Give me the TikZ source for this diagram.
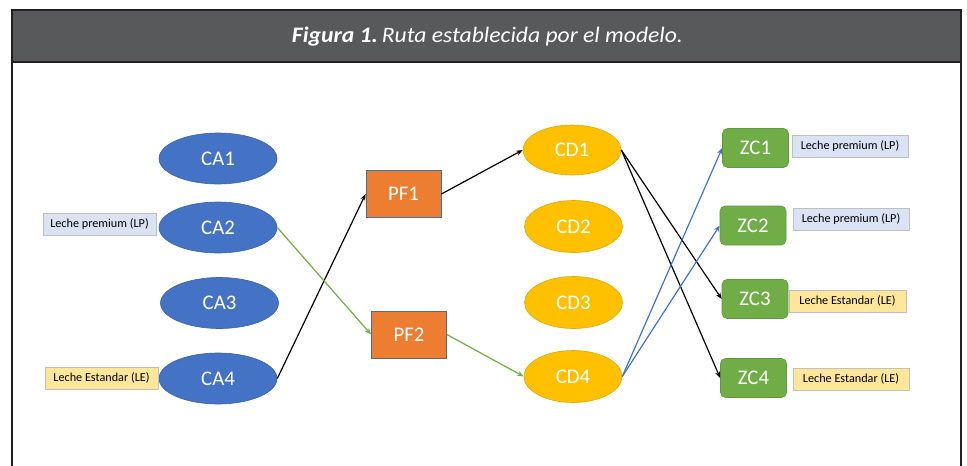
\documentclass[tikz,border=0pt]{standalone}
\usepackage{fontspec}
\setmainfont{Carlito}
\usetikzlibrary{shapes.geometric,arrows.meta}
\definecolor{hdr}{HTML}{58595B}
\definecolor{frm}{HTML}{231F20}
\definecolor{cablue}{HTML}{4472C4}
\definecolor{cablueD}{HTML}{3A62AA}
\definecolor{pforange}{HTML}{ED7D31}
\definecolor{pfedge}{HTML}{41719C}
\definecolor{cdyellow}{HTML}{FFC000}
\definecolor{cdyellowD}{HTML}{E0A800}
\definecolor{zcgreen}{HTML}{70AD47}
\definecolor{zcgreenD}{HTML}{5E9A3A}
\definecolor{lpfill}{HTML}{DAE3F3}
\definecolor{lefill}{HTML}{FFE699}
\definecolor{lbledge}{HTML}{BFBFBF}
\definecolor{garrow}{HTML}{70AD47}
\definecolor{barrow}{HTML}{4472C4}
\begin{document}
\begin{tikzpicture}[x=1pt,y=-1pt,
  nodefont/.style={font=\fontsize{20.8}{23}\selectfont, text=white},
  caell/.style={ellipse, fill=cablue, draw=cablueD, line width=0.6pt, minimum width=118pt, minimum height=51pt, inner sep=0pt, nodefont},
  cdell/.style={ellipse, fill=cdyellow, draw=cdyellowD, line width=0.6pt, minimum width=98pt, minimum height=50pt, inner sep=0pt, nodefont},
  pfbox/.style={rectangle, fill=pforange, draw=pfedge, line width=0.8pt, minimum width=75pt, minimum height=47pt, inner sep=0pt, nodefont},
  zcbox/.style={rectangle, rounded corners=5pt, fill=zcgreen, draw=zcgreenD, line width=0.6pt, minimum width=66pt, minimum height=39pt, inner sep=0pt, nodefont},
  lbl/.style={rectangle, draw=lbledge, line width=0.7pt, minimum width=115pt, minimum height=22pt, inner sep=0pt, font=\fontsize{12.2}{14}\selectfont, text=black},
  lplbl/.style={lbl, fill=lpfill},
  lelbl/.style={lbl, fill=lefill},
  conn/.style={line width=1.2pt, -{Stealth[length=6.5pt,width=5pt]}},
]
\useasboundingbox (0,0) rectangle (967,466);
% frame
\draw[frm, line width=2pt] (12,10) -- (12,466);
\draw[frm, line width=2pt] (961,10) -- (961,466);
\node[rectangle, fill=hdr, draw=frm, line width=2pt, minimum width=949pt, minimum height=52pt, inner sep=0pt] (header) at (486.5,36) {};
\node[text=white, inner sep=0pt] (title) at (487.5,37) {\resizebox{391pt}{15.5pt}{\textbf{\textit{Figura 1.}}\,\textit{Ruta establecida por el modelo.}}};

% CA nodes
\node[caell] (CA1) at (218,158.5) {CA1};
\node[caell] (CA2) at (218,227.5) {CA2};
\node[caell] (CA3) at (219.5,303) {CA3};
\node[caell] (CA4) at (218,378.5) {CA4};

% PF nodes
\node[pfbox] (PF1) at (403.5,194) {PF1};
\node[pfbox] (PF2) at (409,334.5) {PF2};

% CD nodes
\node[cdell] (CD1) at (572,150) {CD1};
\node[cdell, minimum height=52pt] (CD2) at (573.5,226.5) {CD2};
\node[cdell, minimum height=52pt] (CD3) at (573.5,302.5) {CD3};
\node[cdell, minimum height=52pt] (CD4) at (573,376.5) {CD4};

% ZC nodes
\node[zcbox] (ZC1) at (755.5,148) {ZC1};
\node[zcbox] (ZC2) at (753,225.5) {ZC2};
\node[zcbox] (ZC3) at (755,299) {ZC3};
\node[zcbox] (ZC4) at (753.5,378) {ZC4};

% labels
\node[lplbl, minimum width=113pt] (L1) at (99.5,224.5) {Leche premium (LP)};
\node[lelbl, minimum width=113pt] (L2) at (101.5,378) {Leche Estandar (LE)};
\node[lplbl, minimum width=116pt] (R1) at (850,146.5) {Leche premium (LP)};
\node[lplbl, minimum width=116pt] (R2) at (851,219.5) {Leche premium (LP)};
\node[lelbl, minimum width=117pt] (R3) at (847.5,301) {Leche Estandar (LE)};
\node[lelbl, minimum width=116pt] (R4) at (851,379) {Leche Estandar (LE)};

% connectors
\draw[conn, black] (CA4.east) -- (PF1.west);
\draw[conn, garrow] (CA2.east) -- (PF2.west);
\draw[conn, black] (PF1.east) -- (CD1.west);
\draw[conn, garrow] (PF2.east) -- (CD4.west);
\draw[conn, black] (CD1.east) -- (ZC3.west);
\draw[conn, black] (CD1.east) -- (ZC4.west);
\draw[conn, barrow] (CD4.east) -- (ZC1.west);
\draw[conn, barrow] (CD4.east) -- (ZC2.west);
\end{tikzpicture}
\end{document}
